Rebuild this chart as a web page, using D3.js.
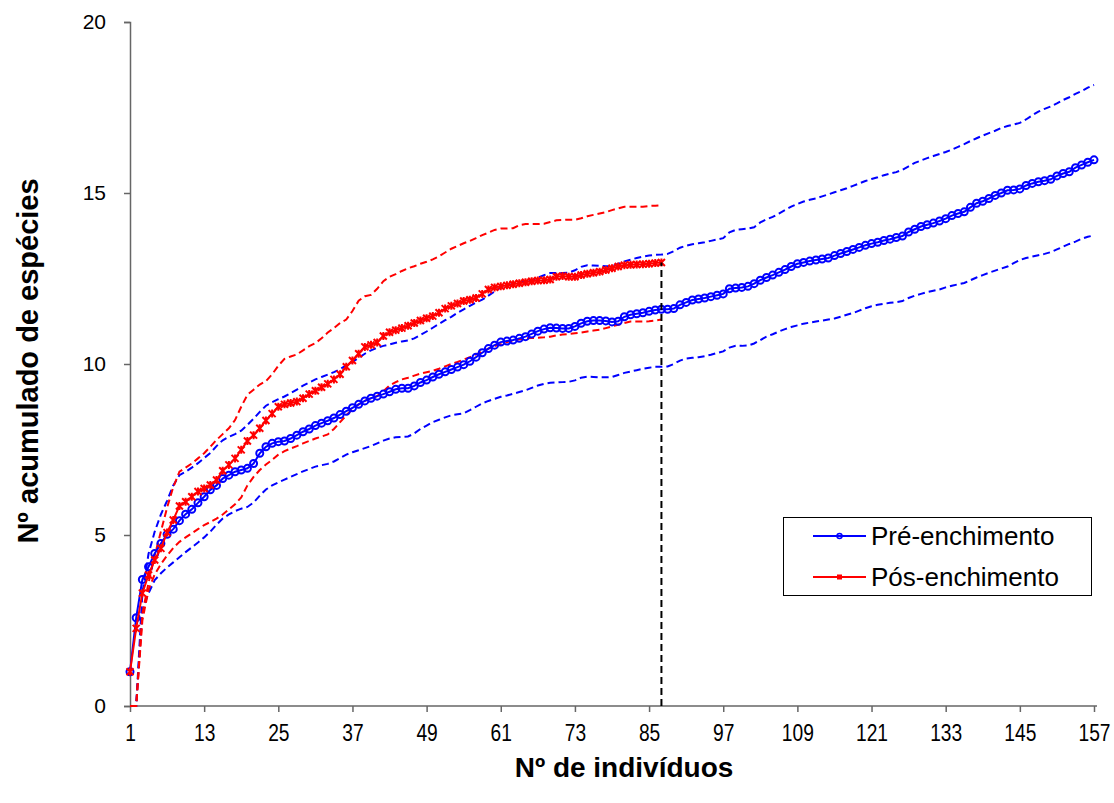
<!DOCTYPE html>
<html><head><meta charset="utf-8">
<script src="https://cdn.jsdelivr.net/npm/d3@7"></script>
<style>body{margin:0;background:#fff}svg{display:block}text{font-family:"Liberation Sans",Arial,sans-serif}</style>
</head><body><svg id="c" width="1114" height="803"></svg>
<script>
const xTickLabels = [1,13,25,37,49,61,73,85,97,109,121,133,145,157];
const yTickLabels = [0,5,10,15,20];
const seriesNames = ["Pré-enchimento","Pós-enchimento"];
const dropLineAt = 87;

const preMean = [1.0,2.58,3.70,4.07,4.46,4.75,5.02,5.17,5.42,5.61,5.75,5.94,6.12,6.32,6.45,6.65,6.75,6.85,6.90,6.95,
7.09,7.39,7.58,7.68,7.73,7.75,7.82,7.92,8.02,8.10,8.20,8.27,8.34,8.42,8.52,8.62,8.72,8.82,8.92,9.00,
9.06,9.12,9.19,9.26,9.29,9.29,9.36,9.46,9.53,9.62,9.70,9.77,9.84,9.91,9.98,10.08,10.20,10.33,10.45,10.55,
10.64,10.67,10.70,10.75,10.80,10.88,10.96,11.02,11.06,11.05,11.04,11.04,11.10,11.19,11.25,11.27,11.27,11.26,11.23,11.25,
11.38,11.44,11.47,11.50,11.54,11.58,11.60,11.60,11.62,11.73,11.80,11.87,11.90,11.93,11.97,12.01,12.05,12.20,12.22,12.24,
12.27,12.35,12.45,12.53,12.60,12.68,12.76,12.85,12.93,12.97,13.01,13.04,13.07,13.10,13.17,13.23,13.29,13.35,13.41,13.47,
13.52,13.56,13.61,13.65,13.70,13.74,13.86,13.94,14.02,14.07,14.12,14.18,14.25,14.34,14.40,14.45,14.58,14.70,14.76,14.84,
14.93,15.00,15.08,15.09,15.12,15.22,15.28,15.33,15.36,15.40,15.50,15.57,15.62,15.74,15.82,15.90,15.97];

const preUpper = [0,0,3.3,4.45,5.10,5.60,6.00,6.45,6.75,6.85,6.97,7.10,7.25,7.40,7.60,7.77,7.87,7.95,8.05,8.22,
8.40,8.60,8.78,8.88,8.97,9.05,9.15,9.25,9.37,9.46,9.55,9.62,9.69,9.76,9.85,9.96,10.06,10.18,10.30,10.40,
10.47,10.53,10.57,10.62,10.66,10.69,10.75,10.85,10.95,11.06,11.17,11.28,11.38,11.50,11.60,11.70,11.80,11.88,12.00,12.12,
12.24,12.30,12.34,12.38,12.41,12.45,12.52,12.60,12.66,12.66,12.66,12.67,12.74,12.84,12.89,12.88,12.87,12.86,12.86,12.93,
13.00,13.05,13.10,13.14,13.17,13.19,13.20,13.22,13.30,13.40,13.46,13.50,13.53,13.56,13.60,13.64,13.68,13.85,13.92,13.94,
13.96,14.00,14.14,14.23,14.30,14.40,14.50,14.60,14.68,14.75,14.80,14.84,14.90,14.96,15.02,15.08,15.14,15.21,15.28,15.35,
15.41,15.46,15.52,15.57,15.61,15.68,15.78,15.88,15.95,16.02,16.08,16.14,16.20,16.27,16.35,16.43,16.52,16.60,16.68,16.75,
16.82,16.90,16.96,17.00,17.05,17.15,17.27,17.38,17.46,17.53,17.62,17.72,17.80,17.90,17.98,18.08,18.16];

const preLower = [0,0,2.8,3.30,3.68,3.88,4.05,4.20,4.35,4.50,4.64,4.78,4.93,5.10,5.30,5.48,5.60,5.70,5.77,5.82,
5.95,6.15,6.33,6.45,6.54,6.62,6.70,6.78,6.86,6.93,7.00,7.04,7.08,7.15,7.25,7.35,7.42,7.48,7.54,7.60,
7.68,7.76,7.82,7.86,7.87,7.88,7.97,8.10,8.20,8.30,8.37,8.44,8.50,8.53,8.56,8.65,8.75,8.85,8.92,8.98,
9.04,9.08,9.13,9.18,9.23,9.30,9.37,9.42,9.45,9.46,9.47,9.48,9.52,9.60,9.63,9.62,9.61,9.61,9.62,9.68,
9.74,9.78,9.82,9.86,9.89,9.92,9.92,9.93,10.00,10.10,10.16,10.18,10.20,10.23,10.27,10.32,10.37,10.48,10.53,10.53,
10.54,10.60,10.70,10.80,10.87,10.95,11.02,11.08,11.13,11.18,11.21,11.24,11.27,11.30,11.33,11.38,11.44,11.49,11.56,11.63,
11.69,11.73,11.76,11.79,11.81,11.84,11.93,12.00,12.05,12.10,12.14,12.18,12.24,12.29,12.33,12.37,12.45,12.53,12.60,12.67,
12.73,12.79,12.85,12.95,13.04,13.10,13.14,13.18,13.22,13.27,13.35,13.43,13.51,13.58,13.66,13.72,13.76];

const postMean = [1.0,2.27,3.30,3.83,4.27,4.61,5.07,5.44,5.85,5.97,6.12,6.27,6.36,6.46,6.61,6.88,7.05,7.24,7.49,7.75,
7.92,8.12,8.35,8.55,8.75,8.82,8.86,8.90,9.00,9.12,9.22,9.32,9.42,9.55,9.70,9.92,10.10,10.30,10.50,10.56,
10.63,10.82,10.93,10.99,11.05,11.12,11.20,11.27,11.34,11.40,11.50,11.62,11.70,11.77,11.84,11.88,11.93,12.05,12.18,12.24,
12.27,12.30,12.33,12.36,12.39,12.42,12.44,12.45,12.47,12.55,12.57,12.55,12.55,12.60,12.64,12.67,12.70,12.75,12.80,12.85,
12.89,12.90,12.91,12.92,12.93,12.95,12.97];

const postUpper = [0,0,2.7,3.60,4.40,5.10,5.80,6.40,6.85,6.97,7.09,7.24,7.39,7.58,7.78,7.95,8.12,8.36,8.75,9.10,
9.25,9.40,9.50,9.70,9.95,10.15,10.22,10.28,10.40,10.52,10.61,10.75,10.92,11.05,11.20,11.30,11.55,11.85,11.98,12.02,
12.20,12.42,12.55,12.63,12.72,12.80,12.86,12.93,12.99,13.06,13.15,13.26,13.37,13.45,13.53,13.60,13.68,13.77,13.84,13.92,
13.96,13.96,13.97,14.06,14.09,14.09,14.09,14.10,14.15,14.20,14.21,14.22,14.22,14.26,14.32,14.36,14.40,14.44,14.50,14.55,
14.60,14.60,14.60,14.60,14.62,14.63,14.64];

const postLower = [0,0,2.5,3.40,3.85,4.15,4.40,4.62,4.80,4.93,5.05,5.17,5.29,5.38,5.48,5.60,5.75,5.90,6.10,6.45,
6.70,6.90,7.06,7.20,7.35,7.45,7.53,7.60,7.68,7.75,7.82,7.88,7.94,8.10,8.30,8.50,8.68,8.82,8.92,9.00,
9.06,9.20,9.37,9.47,9.55,9.60,9.66,9.72,9.76,9.80,9.86,9.93,10.00,10.06,10.13,10.20,10.28,10.36,10.45,10.52,
10.58,10.64,10.68,10.72,10.75,10.76,10.77,10.78,10.80,10.84,10.86,10.88,10.90,10.92,10.95,10.98,11.00,11.05,11.10,11.15,
11.20,11.24,11.24,11.24,11.25,11.27,11.30];

const svg = d3.select("#c");
const x = d3.scaleLinear().domain([1,157]).range([130,1094]);
const y = d3.scaleLinear().domain([0,20]).range([706,22]);
const BLUE="#0000FF", RED="#FF0000";

const line = d3.line().x((d,i)=>x(i+1)).y(d=>y(d));

// axes
const yAxis = d3.axisLeft(y).tickValues(yTickLabels).tickSize(6).tickPadding(18);
const gy = svg.append("g").attr("transform","translate(130,0)").call(yAxis);
gy.select(".domain").attr("stroke","#666").attr("stroke-width",1.5);
gy.selectAll(".tick line").attr("stroke","#666").attr("stroke-width",1.5);
gy.selectAll(".tick text").attr("font-size",21).attr("fill","#000");

const xAxis = d3.axisBottom(x).tickValues(xTickLabels).tickSize(6).tickPadding(12).tickFormat(d3.format("d"));
const gx = svg.append("g").attr("transform","translate(0,706)").call(xAxis);
gx.select(".domain").attr("d","M130,0H1097").attr("stroke","#666").attr("stroke-width",1.5);
gx.selectAll(".tick line").attr("stroke","#666").attr("stroke-width",1.5);
gx.selectAll(".tick text").attr("font-size",24).attr("fill","#000").attr("transform","scale(0.8,1)");

// dashed bounds
const dashed = [[preUpper,BLUE],[preLower,BLUE],[postUpper,RED],[postLower,RED]];
dashed.forEach(([arr,c])=>{
  svg.append("path").attr("d",line(arr)).attr("fill","none").attr("stroke",c)
    .attr("stroke-width",2).attr("stroke-dasharray","7,4");
});

// blue mean
svg.append("path").attr("d",line(preMean)).attr("fill","none").attr("stroke",BLUE).attr("stroke-width",2);
svg.append("g").selectAll("circle").data(preMean).join("circle")
  .attr("cx",(d,i)=>x(i+1)).attr("cy",d=>y(d)).attr("r",3.5)
  .attr("fill","none").attr("stroke",BLUE).attr("stroke-width",2);

// red mean
svg.append("path").attr("d",line(postMean)).attr("fill","none").attr("stroke",RED).attr("stroke-width",2);
const star = "M-3.5,-3.5L3.5,3.5M-3.5,3.5L3.5,-3.5M0,-4L0,4";
svg.append("g").selectAll("path").data(postMean).join("path")
  .attr("transform",(d,i)=>`translate(${x(i+1)},${y(d)})`).attr("d",star)
  .attr("fill","none").attr("stroke",RED).attr("stroke-width",2);

// drop line
svg.append("line").attr("x1",x(dropLineAt)).attr("x2",x(dropLineAt))
  .attr("y1",y(0)).attr("y2",y(postMean[dropLineAt-1]))
  .attr("stroke","#000").attr("stroke-width",2).attr("stroke-dasharray","7,4");

// titles
svg.append("text").attr("transform","translate(624,777)").attr("text-anchor","middle")
  .attr("font-size",28).attr("font-weight","bold").text("Nº de indivíduos");
svg.append("text").attr("transform","translate(38,361) rotate(-90)").attr("text-anchor","middle")
  .attr("font-size",29).attr("font-weight","bold").text("Nº acumulado de espécies");

// legend
const lg = svg.append("g");
lg.append("rect").attr("x",783.5).attr("y",517.5).attr("width",308).attr("height",78)
  .attr("fill","#fff").attr("stroke","#000").attr("stroke-width",1);
const entries = [[seriesNames[0],BLUE,"circle"],[seriesNames[1],RED,"square"]];
entries.forEach(([name,c,m],k)=>{
  const yy = 536 + k*41;
  lg.append("line").attr("x1",813).attr("x2",866).attr("y1",yy).attr("y2",yy).attr("stroke",c).attr("stroke-width",2);
  if(m==="circle") lg.append("circle").attr("cx",839.5).attr("cy",yy).attr("r",2.5).attr("fill","none").attr("stroke",c).attr("stroke-width",1.5);
  else lg.append("rect").attr("x",837).attr("y",yy-2.5).attr("width",5).attr("height",5).attr("fill",c);
  lg.append("text").attr("x",871).attr("y",yy).attr("dy","0.35em").attr("font-size",26).text(name);
});
</script></body></html>
